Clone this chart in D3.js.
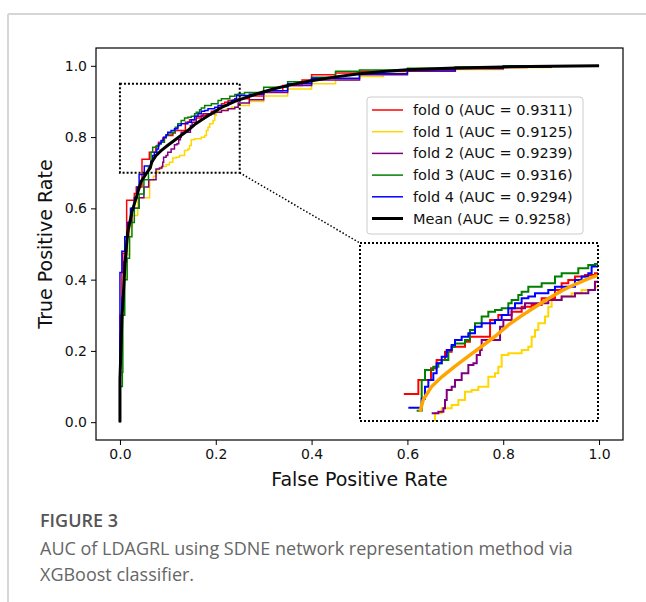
<!DOCTYPE html>
<html><head><meta charset="utf-8">
<script src="https://cdn.jsdelivr.net/npm/d3@7"></script>
<style>
html,body{margin:0;padding:0;background:#fff;}
svg{display:block;}
</style></head>
<body>
<div id="chart"></div>
<script>
// ---------- data ----------
const foldLabels = ["fold 0 (AUC = 0.9311)","fold 1 (AUC = 0.9125)","fold 2 (AUC = 0.9239)","fold 3 (AUC = 0.9316)","fold 4 (AUC = 0.9294)"];
const meanLabel = "Mean (AUC = 0.9258)";
const foldColors = ["#ff0000","#ffd700","#800080","#008000","#0000ff"];
const xTicks = [0.0,0.2,0.4,0.6,0.8,1.0];
const yTicks = [0.0,0.2,0.4,0.6,0.8,1.0];
const zoomX = [0.0,0.25];
const zoomY = [0.7,0.95];

// each fold: [fpr, tpr] at each rise of the ROC step curve
const fold0 = [[0,0],[0,0.3],[0.004,0.42],[0.006,0.474],[0.014,0.548],[0.014,0.623],[0.03,0.642],[0.034,0.66],[0.046,0.738],[0.0613,0.7576],[0.0746,0.774],[0.0805,0.7857],[0.0893,0.7974],[0.0963,0.8044],[0.1103,0.8114],[0.1155,0.8184],[0.1366,0.8419],[0.1453,0.8489],[0.1593,0.8536],[0.1698,0.8606],[0.1803,0.863],[0.1908,0.8723],[0.2048,0.884],[0.2118,0.8934],[0.2188,0.898],[0.2258,0.9028],[0.2363,0.905],[0.2468,0.9075],[0.27,0.915],[0.3,0.93],[0.34,0.945],[0.38,0.96],[0.4,0.975],[0.45,0.98],[0.5,0.985],[0.6,0.99],[0.7,0.995],[0.85,1.0],[1,1]];
const fold1 = [[0,0],[0,0.2],[0.004,0.3],[0.008,0.4],[0.012,0.47],[0.02,0.55],[0.026,0.58],[0.037,0.63],[0.062,0.68],[0.07,0.69],[0.0753,0.70],[0.0788,0.7108],[0.0858,0.7178],[0.0963,0.7225],[0.1033,0.7295],[0.1103,0.7412],[0.1173,0.7435],[0.1243,0.7482],[0.1348,0.7622],[0.1418,0.7669],[0.1453,0.7763],[0.1488,0.7927],[0.1558,0.795],[0.1698,0.7997],[0.1768,0.8044],[0.1803,0.8184],[0.1838,0.8278],[0.1873,0.8372],[0.1943,0.8466],[0.1978,0.8606],[0.2013,0.87],[0.2118,0.8747],[0.2223,0.8794],[0.2328,0.884],[0.2468,0.8887],[0.27,0.9],[0.3,0.915],[0.35,0.935],[0.4,0.95],[0.45,0.96],[0.5,0.97],[0.55,0.98],[0.6,0.985],[0.7,0.99],[0.8,0.995],[0.9,1.0],[1,1]];
const fold2 = [[0,0],[0,0.25],[0.004,0.35],[0.008,0.45],[0.014,0.52],[0.018,0.56],[0.025,0.6],[0.04,0.63],[0.05,0.66],[0.06,0.68],[0.0753,0.7108],[0.0823,0.7131],[0.0876,0.7178],[0.0893,0.7295],[0.0911,0.7435],[0.0963,0.7482],[0.0998,0.7576],[0.1068,0.7669],[0.1138,0.7786],[0.1191,0.781],[0.1226,0.7927],[0.1261,0.7997],[0.1278,0.8137],[0.1471,0.8325],[0.1506,0.8419],[0.1593,0.8583],[0.1733,0.8653],[0.1978,0.87],[0.2118,0.8747],[0.2258,0.8794],[0.2398,0.884],[0.2468,0.8957],[0.27,0.905],[0.3,0.925],[0.35,0.945],[0.4,0.96],[0.5,0.975],[0.6,0.985],[0.7,0.992],[0.8,0.997],[0.9,1.0],[1,1]];
const fold3 = [[0,0],[0,0.1],[0.005,0.14],[0.006,0.3],[0.01,0.4],[0.015,0.46],[0.02,0.52],[0.025,0.56],[0.03,0.6],[0.04,0.64],[0.05,0.68],[0.0595,0.7145],[0.0648,0.7576],[0.0683,0.7716],[0.077,0.7763],[0.0823,0.781],[0.0858,0.7857],[0.0928,0.7997],[0.0963,0.8044],[0.0998,0.809],[0.1103,0.8137],[0.1155,0.8278],[0.1208,0.8372],[0.1278,0.8466],[0.1348,0.8536],[0.1418,0.856],[0.1488,0.8583],[0.1558,0.8653],[0.1593,0.87],[0.1663,0.877],[0.1698,0.8817],[0.1768,0.8887],[0.1908,0.8934],[0.2048,0.9028],[0.2118,0.9075],[0.2293,0.9145],[0.2398,0.9192],[0.2468,0.9206],[0.26,0.925],[0.3,0.94],[0.35,0.955],[0.4,0.968],[0.45,0.985],[0.5,0.988],[0.6,0.993],[0.7,0.997],[0.8,1.0],[1,1]];
const fold4 = [[0,0],[0,0.42],[0.004,0.48],[0.01,0.52],[0.016,0.56],[0.022,0.6],[0.03,0.63],[0.036,0.66],[0.04,0.695],[0.0508,0.7187],[0.0648,0.7314],[0.0683,0.7482],[0.0718,0.7576],[0.077,0.7669],[0.0805,0.781],[0.0858,0.7904],[0.0911,0.7997],[0.0963,0.8067],[0.0998,0.8137],[0.1068,0.8184],[0.1138,0.8231],[0.1208,0.8325],[0.1278,0.8372],[0.1418,0.8419],[0.1488,0.8489],[0.1558,0.8583],[0.1628,0.8653],[0.1698,0.8723],[0.1768,0.8747],[0.1838,0.8794],[0.1978,0.884],[0.2048,0.8887],[0.2258,0.898],[0.2328,0.9028],[0.2398,0.9075],[0.2433,0.917],[0.27,0.92],[0.3,0.93],[0.35,0.95],[0.4,0.965],[0.5,0.978],[0.6,0.988],[0.7,0.994],[0.8,0.998],[0.9,1.0],[1,1]];
const meanCurve = [[0,0],[0,0.12],[0.002,0.2],[0.004,0.29],[0.008,0.38],[0.011,0.455],[0.016,0.53],[0.025,0.59],[0.034,0.63],[0.044,0.675],[0.055,0.698],[0.063,0.713],[0.0665,0.73],[0.075,0.748],[0.086,0.762],[0.1,0.777],[0.114,0.791],[0.128,0.805],[0.142,0.819],[0.156,0.835],[0.17,0.848],[0.184,0.86],[0.198,0.872],[0.212,0.883],[0.226,0.892],[0.24,0.9],[0.25,0.905],[0.285,0.921],[0.32,0.935],[0.36,0.948],[0.4,0.958],[0.45,0.969],[0.5,0.978],[0.55,0.984],[0.6,0.989],[0.7,0.994],[0.8,0.997],[0.9,0.999],[1,1]];
const folds = [fold0, fold1, fold2, fold3, fold4];

const captionTitle = "FIGURE 3";
const captionLines = ["AUC of LDAGRL using SDNE network representation method via","XGBoost classifier."];

// ---------- layout ----------
const W = 646, H = 602;
const frame = {l:96, r:623, t:48, b:440};
const insetBox = {l:360, r:598, t:243, b:421};
const FONT = "DejaVu Sans, sans-serif";

const svg = d3.select("#chart").append("svg").attr("width",W).attr("height",H);

// card border
svg.append("line").attr("x1",8).attr("x2",W).attr("y1",14).attr("y2",14).attr("stroke","#d6d6d6").attr("stroke-width",2);
svg.append("line").attr("x1",8).attr("x2",8).attr("y1",14).attr("y2",H).attr("stroke","#d6d6d6").attr("stroke-width",2);

const x = d3.scaleLinear().domain([-0.05,1.05]).range([frame.l, frame.r]);
const y = d3.scaleLinear().domain([-0.05,1.05]).range([frame.b, frame.t]);

// axes
const gx = svg.append("g").attr("transform",`translate(0,${frame.b})`)
  .call(d3.axisBottom(x).tickValues(xTicks).tickFormat(d3.format(".1f")).tickSize(5).tickPadding(4).tickSizeOuter(0));
const gy = svg.append("g").attr("transform",`translate(${frame.l},0)`)
  .call(d3.axisLeft(y).tickValues(yTicks).tickFormat(d3.format(".1f")).tickSize(5).tickPadding(4).tickSizeOuter(0));
[gx,gy].forEach(g=>{
  g.select(".domain").remove();
  g.selectAll("line").attr("stroke","#000").attr("stroke-width",1);
  g.selectAll("text").attr("font-family",FONT).attr("font-size",14).attr("fill","#111");
});

// lines
const stepLine = (sx,sy)=>d3.line().x(d=>sx(d[0])).y(d=>sy(d[1])).curve(d3.curveStepAfter);
const smoothLine = (sx,sy)=>d3.line().x(d=>sx(d[0])).y(d=>sy(d[1]));

const main = svg.append("g");
folds.forEach((f,i)=>{
  main.append("path").attr("d",stepLine(x,y)(f)).attr("fill","none")
    .attr("stroke",foldColors[i]).attr("stroke-width",1.5);
});
main.append("path").attr("d",smoothLine(x,y)(meanCurve)).attr("fill","none")
  .attr("stroke","#000").attr("stroke-width",3);

// frame
svg.append("rect").attr("x",frame.l).attr("y",frame.t).attr("width",frame.r-frame.l).attr("height",frame.b-frame.t)
  .attr("fill","none").attr("stroke","#000").attr("stroke-width",1.2);

// zoom rectangle
svg.append("rect").attr("x",x(zoomX[0])).attr("y",y(zoomY[1]))
  .attr("width",x(zoomX[1])-x(zoomX[0])).attr("height",y(zoomY[0])-y(zoomY[1]))
  .attr("fill","none").attr("stroke","#000").attr("stroke-width",2).attr("stroke-dasharray","2,2");

// connector
svg.append("line").attr("x1",x(zoomX[1])).attr("y1",y(zoomY[0])).attr("x2",insetBox.l).attr("y2",insetBox.t)
  .attr("stroke","#000").attr("stroke-width",1.5).attr("stroke-dasharray","1.5,2");

// inset: only the points inside the zoom window are drawn
const inWin = d=>d[1] >= zoomY[0];
const xi = d3.scaleLinear().domain(zoomX).range([insetBox.l, insetBox.r]);
const yi = d3.scaleLinear().domain(zoomY).range([insetBox.b, insetBox.t]);
svg.append("rect").attr("x",insetBox.l).attr("y",insetBox.t).attr("width",insetBox.r-insetBox.l).attr("height",insetBox.b-insetBox.t).attr("fill","#fff");
svg.append("clipPath").attr("id","insetClip").append("rect")
  .attr("x",insetBox.l).attr("y",insetBox.t).attr("width",insetBox.r-insetBox.l).attr("height",insetBox.b-insetBox.t);
const inset = svg.append("g").attr("clip-path","url(#insetClip)");
folds.forEach((f,i)=>{
  inset.append("path").attr("d",stepLine(xi,yi)(f.filter(inWin))).attr("fill","none")
    .attr("stroke",foldColors[i]).attr("stroke-width",2);
});
inset.append("path").attr("d",smoothLine(xi,yi)(meanCurve.filter(inWin))).attr("fill","none")
  .attr("stroke","#ffa500").attr("stroke-width",3.5);
svg.append("rect").attr("x",insetBox.l).attr("y",insetBox.t).attr("width",insetBox.r-insetBox.l).attr("height",insetBox.b-insetBox.t)
  .attr("fill","none").attr("stroke","#000").attr("stroke-width",2).attr("stroke-dasharray","2,2");

// axis labels
svg.append("text").attr("x",(frame.l+frame.r)/2).attr("y",486).attr("text-anchor","middle")
  .attr("font-family",FONT).attr("font-size",19).attr("fill","#111").text("False Positive Rate");
svg.append("text").attr("transform",`translate(52,${(frame.t+frame.b)/2}) rotate(-90)`).attr("text-anchor","middle")
  .attr("font-family",FONT).attr("font-size",19).attr("fill","#111").text("True Positive Rate");

// legend
const leg = {x:367, y:97, w:216, h:137, row:21.7};
svg.append("rect").attr("x",leg.x).attr("y",leg.y).attr("width",leg.w).attr("height",leg.h).attr("rx",3)
  .attr("fill","#fff").attr("fill-opacity",0.8).attr("stroke","#cccccc");
const legItems = foldLabels.map((l,i)=>({label:l,color:foldColors[i],w:1.5})).concat([{label:meanLabel,color:"#000",w:3}]);
legItems.forEach((it,i)=>{
  const cy = 110 + i*leg.row;
  svg.append("line").attr("x1",372).attr("x2",403).attr("y1",cy).attr("y2",cy).attr("stroke",it.color).attr("stroke-width",it.w);
  svg.append("text").attr("x",413).attr("y",cy+5).attr("font-family",FONT).attr("font-size",14.5).attr("fill","#111").text(it.label);
});

// caption
svg.append("text").attr("x",40).attr("y",527).attr("font-family","Open Sans, sans-serif").attr("font-weight",600)
  .attr("font-size",18).attr("fill","#555").text(captionTitle);
captionLines.forEach((t,i)=>{
  svg.append("text").attr("x",40).attr("y",555+i*26).attr("font-family","Open Sans, sans-serif")
    .attr("font-size",18).attr("fill","#666").text(t);
});
</script>
</body></html>
